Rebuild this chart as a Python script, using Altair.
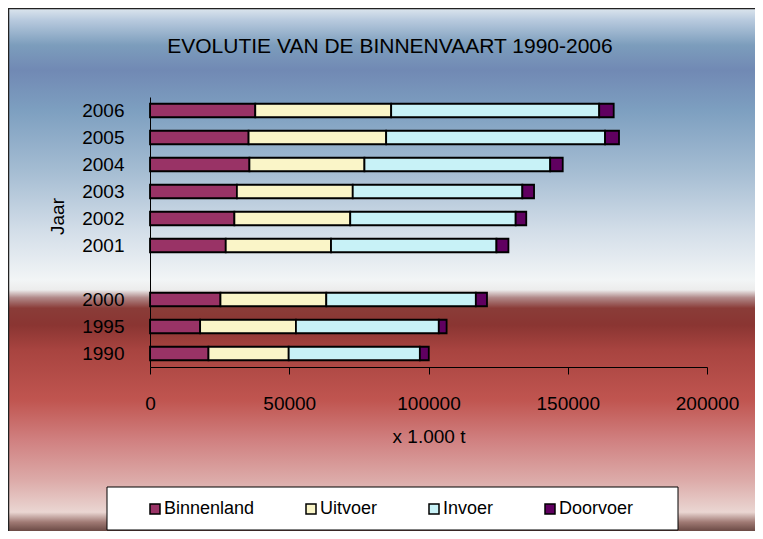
import altair as alt
import pandas as pd

# ---- data ----
years = ["2006", "2005", "2004", "2003", "2002", "2001", "2000", "1995", "1990"]
binnenland = [37800, 35400, 35700, 31200, 30300, 27200, 25300, 18000, 21000]
uitvoer = [48800, 49400, 41300, 41600, 41600, 37800, 38000, 34400, 28800]
invoer = [74700, 78600, 66700, 60900, 59400, 59400, 53700, 51300, 47100]
doorvoer = [5200, 5000, 4500, 4200, 3800, 4300, 4000, 2800, 3200]
series = ["Binnenland", "Uitvoer", "Invoer", "Doorvoer"]
colors = ["#993366", "#FAF5C8", "#C8F2F7", "#600060"]
y_domain = ["2006", "2005", "2004", "2003", "2002", "2001", " ", "2000", "1995", "1990"]
x_ticks = [0, 50000, 100000, 150000, 200000]
title_text = "EVOLUTIE VAN DE BINNENVAART 1990-2006"
x_title = "x 1.000 t"
y_title = "Jaar"

FONT = "Liberation Sans"

rows = []
for i, yr in enumerate(years):
    for k, (name, vals) in enumerate(zip(series, [binnenland, uitvoer, invoer, doorvoer])):
        rows.append({"Jaar": yr, "reeks": name, "waarde": vals[i], "volgorde": k})
df = pd.DataFrame(rows)

W, H = 557, 270
PAD = {"left": 142, "top": 89, "right": 48, "bottom": 164}

gradient = alt.LinearGradient(
    gradient="linear",
    x1=0, y1=0, x2=0, y2=1,
    stops=[
        alt.GradientStop(color="#dde6ee", offset=0.0),
        alt.GradientStop(color="#b8cade", offset=0.023),
        alt.GradientStop(color="#7c9dbc", offset=0.071),
        alt.GradientStop(color="#7189b4", offset=0.119),
        alt.GradientStop(color="#7d9fc0", offset=0.195),
        alt.GradientStop(color="#a4bcd2", offset=0.31),
        alt.GradientStop(color="#d2dde8", offset=0.424),
        alt.GradientStop(color="#f2f5f6", offset=0.52),
        alt.GradientStop(color="#ececec", offset=0.539),
        alt.GradientStop(color="#b08888", offset=0.554),
        alt.GradientStop(color="#8a3c38", offset=0.574),
        alt.GradientStop(color="#8a3532", offset=0.606),
        alt.GradientStop(color="#a84440", offset=0.654),
        alt.GradientStop(color="#c05550", offset=0.75),
        alt.GradientStop(color="#d08080", offset=0.826),
        alt.GradientStop(color="#dcaaa8", offset=0.902),
        alt.GradientStop(color="#ead6d2", offset=0.964),
        alt.GradientStop(color="#a07a74", offset=0.983),
        alt.GradientStop(color="#6b4a45", offset=1.0),
    ],
)

one = alt.Data(values=[{"k": 1}])

bg = alt.Chart(one).mark_rect(fill=gradient).encode(
    x=alt.value(-PAD["left"]), x2=alt.value(W + PAD["right"]),
    y=alt.value(-PAD["top"]), y2=alt.value(H + PAD["bottom"]),
)

frame_top = alt.Chart(one).mark_rule(color="#222222", strokeWidth=1.5).encode(
    x=alt.value(-PAD["left"]), x2=alt.value(W + PAD["right"]), y=alt.value(-PAD["top"] + 0.5),
)
frame_left = alt.Chart(one).mark_rule(color="#222222", strokeWidth=1.5).encode(
    x=alt.value(-PAD["left"] + 0.5), y=alt.value(-PAD["top"]), y2=alt.value(H + PAD["bottom"]),
)

legend_box = alt.Chart(one).mark_rect(fill="white", stroke="black", strokeWidth=1).encode(
    x=alt.value(-43), x2=alt.value(528), y=alt.value(390), y2=alt.value(433),
)

title = alt.Chart(one).mark_text(
    text=title_text, font=FONT, fontSize=21, align="center", baseline="alphabetic", color="black"
).encode(x=alt.value(240), y=alt.value(-44))

bars = alt.Chart(df).mark_bar(stroke="black", strokeWidth=1.8).encode(
    x=alt.X(
        "waarde:Q", stack="zero",
        scale=alt.Scale(domain=[0, 200000], nice=False, zero=True),
        axis=alt.Axis(
            values=x_ticks, format="d", title=x_title, grid=False,
            domainColor="black", domainWidth=1, tickColor="black", tickSize=7,
            labelFont=FONT, labelFontSize=19, labelColor="black", labelPadding=20,
            labelFlush=False, titleFont=FONT, titleFontSize=19, titleFontWeight="normal",
            titleColor="black", titlePadding=14, zindex=1,
        ),
    ),
    y=alt.Y(
        "Jaar:N", sort=y_domain,
        scale=alt.Scale(domain=y_domain, paddingInner=0.5, paddingOuter=0.25),
        axis=alt.Axis(
            title=y_title, ticks=False, grid=False, domainColor="black", domainWidth=1,
            labelFont=FONT, labelFontSize=19, labelColor="black", labelPadding=26,
            titleFont=FONT, titleFontSize=19, titleFontWeight="normal", titleColor="black",
            titleX=-93, titleY=119, titleAlign="center", titleBaseline="middle", titleAngle=270,
            zindex=1,
        ),
    ),
    color=alt.Color(
        "reeks:N", sort=series,
        scale=alt.Scale(domain=series, range=colors),
        legend=alt.Legend(
            title=None, orient="none", legendX=-4, legendY=403, direction="horizontal",
            columnPadding=47, labelFont=FONT, labelFontSize=18, labelColor="black",
            labelOffset=0, symbolType="square", symbolSize=100, symbolStrokeColor="black",
            symbolStrokeWidth=1.5, symbolOpacity=1, padding=0,
        ),
    ),
    order=alt.Order("volgorde:Q"),
)

chart = alt.layer(bg, frame_top, frame_left, legend_box, title, bars).properties(
    width=W, height=H, padding=PAD,
    autosize=alt.AutoSizeParams(type="none"),
    background="white",
).configure_view(stroke=None)

chart.save("out.html", embed_options={"renderer": "svg", "actions": False})
